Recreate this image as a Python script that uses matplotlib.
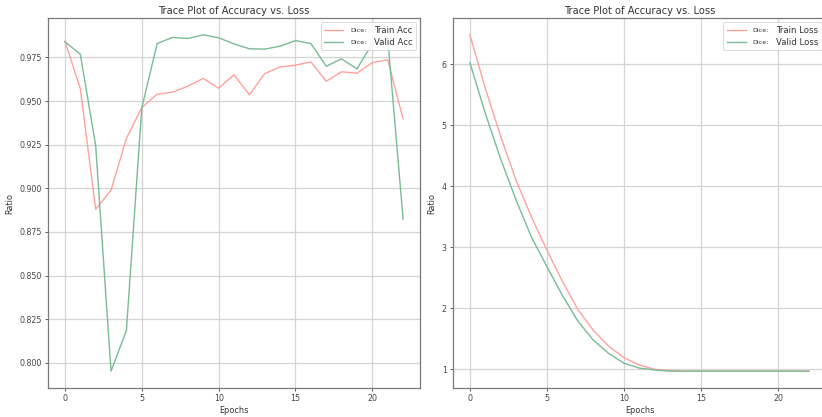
import matplotlib
matplotlib.use("Agg")
import matplotlib.pyplot as plt
import numpy as np


epochs = list(range(23))

train_acc = [0.9844, 0.9572, 0.8880, 0.8989, 0.9286, 0.9463, 0.9540, 0.9551,
             0.9586, 0.9630, 0.9574, 0.9651, 0.9536, 0.9658, 0.9696, 0.9706,
             0.9725, 0.9614, 0.9668, 0.9660, 0.9721, 0.9737, 0.9398]
valid_acc = [0.9840, 0.9769, 0.9247, 0.7952, 0.8185, 0.9460, 0.9830, 0.9865,
             0.9859, 0.9880, 0.9863, 0.9828, 0.9800, 0.9798, 0.9815, 0.9847,
             0.9830, 0.9700, 0.9742, 0.9685, 0.9830, 0.9860, 0.8824]

train_loss = [6.48, 5.60, 4.81, 4.09, 3.49, 2.95, 2.44, 1.98, 1.64, 1.38,
              1.19, 1.07, 1.00, 0.98, 0.97, 0.97, 0.97, 0.97, 0.97, 0.97,
              0.97, 0.97, 0.97]
valid_loss = [6.02, 5.19, 4.44, 3.77, 3.16, 2.68, 2.21, 1.79, 1.48, 1.26,
              1.10, 1.02, 0.99, 0.97, 0.97, 0.97, 0.97, 0.97, 0.97, 0.97,
              0.97, 0.97, 0.97]

TRAIN_COLOR = "#ffa19c"
VALID_COLOR = "#79bb95"
TITLE = "Trace Plot of Accuracy vs. Loss"


def style_axes(ax):
    ax.grid(True, color="#d4d4d4", linewidth=0.9)
    ax.set_axisbelow(True)
    for s in ax.spines.values():
        s.set_color("#7a7a7a")
        s.set_linewidth(0.9)
    ax.tick_params(labelsize=5.7, colors="#444444", length=2.5, width=0.6,
                   pad=2)
    ax.set_xlabel("Epochs", fontsize=5.9, color="#333333", labelpad=2)
    ax.set_ylabel("Ratio", fontsize=5.9, color="#333333", labelpad=4)
    ax.set_title(TITLE, fontsize=7.1, color="#333333", pad=3)
    ax.set_xticks([0, 5, 10, 15, 20])


def add_dice(fig, leg):
    # small "Dice:" prefix in front of each legend label
    fig.canvas.draw()
    inv = fig.transFigure.inverted()
    for t in leg.get_texts():
        bb = t.get_window_extent()
        x, y = inv.transform((bb.x0 - 7, (bb.y0 + bb.y1) / 2))
        fig.text(x, y, "Dice:", fontsize=4.6, color="#333333",
                 ha="right", va="center", zorder=10)


fig = plt.figure(figsize=(8.22, 4.17), dpi=100)
W, H = 822, 417
ax1 = fig.add_axes([48 / W, (H - 388) / H, 372 / W, 370 / H])
ax2 = fig.add_axes([453 / W, (H - 388) / H, 373 / W, 370 / H])

ax1.plot(epochs, train_acc, color=TRAIN_COLOR, linewidth=1.0, label="Train Acc")
ax1.plot(epochs, valid_acc, color=VALID_COLOR, linewidth=1.0, label="Valid Acc")
style_axes(ax1)
ax1.set_yticks(np.arange(0.800, 0.976, 0.025))
ax1.yaxis.set_major_formatter(matplotlib.ticker.FormatStrFormatter("%.3f"))

ax2.plot(epochs, train_loss, color=TRAIN_COLOR, linewidth=1.0, label="Train Loss")
ax2.plot(epochs, valid_loss, color=VALID_COLOR, linewidth=1.0, label="Valid Loss")
style_axes(ax2)

legs = []
for ax in (ax1, ax2):
    leg = ax.legend(loc="upper right", fontsize=6.1, handletextpad=3.6,
                    handlelength=2.2, borderpad=0.4, labelspacing=0.35,
                    framealpha=0.85, edgecolor="#cccccc", labelcolor="#333333")
    leg.get_frame().set_linewidth(0.6)
    legs.append(leg)

for leg in legs:
    add_dice(fig, leg)

fig.savefig("out.png", dpi=100)
